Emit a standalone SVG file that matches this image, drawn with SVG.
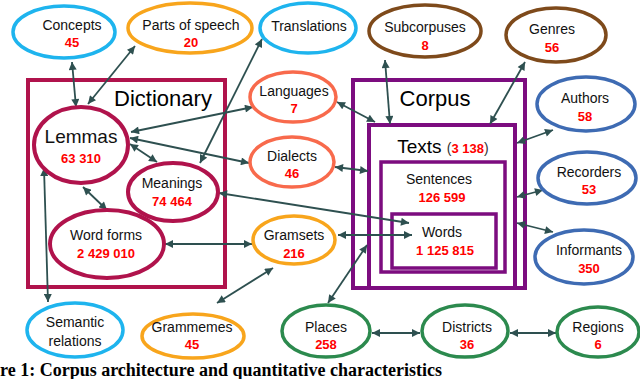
<svg xmlns="http://www.w3.org/2000/svg" width="640" height="379" viewBox="0 0 640 379">
<style>
.bg{fill:#fff}
.e{fill:#fff;stroke-width:3.5}
.lb{stroke:#1EB4EE}.or{stroke:#F8A51C}.co{stroke:#F86A4C}.br{stroke:#7E4A1B}.db{stroke:#3E6BB3}.gr{stroke:#2C8A4E}.cr{stroke:#B0134C}
.box{fill:none;stroke-width:4}
.dict{stroke:#B0134C}.corp{stroke:#7C0D7F}
.t{font-family:"Liberation Sans",Arial,sans-serif;font-size:14px;fill:#111;text-anchor:middle}
.n{font-family:"Liberation Sans",Arial,sans-serif;font-size:13px;font-weight:bold;fill:#FF0000;text-anchor:middle}
.big{font-family:"Liberation Sans",Arial,sans-serif;font-size:22px;fill:#000;text-anchor:middle}
.c line{stroke:#2E5050;stroke-width:1.8;marker-start:url(#ah);marker-end:url(#ah)}
.cap{font-family:"Liberation Serif","Times New Roman",serif;font-size:18px;font-weight:bold;fill:#000}
</style>
<defs>
<marker id="ah" viewBox="0 0 10 10" refX="10" refY="5" markerUnits="userSpaceOnUse" markerWidth="9" markerHeight="8" orient="auto-start-reverse">
<path d="M0,0 L10,5 L0,10 z" fill="#2E5050"/>
</marker>
</defs>
<rect class="bg" x="0" y="0" width="640" height="379"/>

<g id="dictionary">
<rect class="box dict" x="28" y="80" width="197" height="207"/>
<text class="big" x="163" y="106">Dictionary</text>
</g>
<g id="corpus">
<rect class="box corp" x="353" y="80" width="172" height="208"/>
<text class="big" x="435" y="106">Corpus</text>
</g>
<g id="texts">
<rect class="box corp" x="369" y="125" width="146" height="163"/>
<text x="443" y="153" style="font-family:'Liberation Sans',Arial,sans-serif;text-anchor:middle"><tspan font-size="19" fill="#000">Texts </tspan><tspan font-size="14" fill="#333">(</tspan><tspan font-size="13" font-weight="bold" fill="#FF0000">3 138</tspan><tspan font-size="14" fill="#333">)</tspan></text>
</g>
<g id="sentences">
<rect class="box corp" x="381" y="162" width="124" height="110" style="stroke-width:3.5"/>
<text class="t" x="439" y="184">Sentences</text>
<text class="n" x="442" y="202">126 599</text>
</g>
<g id="words">
<rect class="box corp" x="392" y="214" width="104" height="54" style="stroke-width:3.5"/>
<text class="t" x="442" y="237">Words</text>
<text class="n" x="445" y="255">1 125 815</text>
</g>

<g class="c" id="connectors">
<line x1="72" y1="62" x2="76" y2="107"/>
<line x1="135" y1="46" x2="88" y2="104"/>
<line x1="262" y1="39" x2="200" y2="163"/>
<line x1="131" y1="132" x2="253" y2="107"/>
<line x1="130" y1="138" x2="249" y2="163"/>
<line x1="130" y1="144" x2="157" y2="162"/>
<line x1="83" y1="187" x2="107" y2="210"/>
<line x1="44" y1="168" x2="48" y2="302"/>
<line x1="165" y1="244" x2="252" y2="244"/>
<line x1="273" y1="268" x2="217" y2="303"/>
<line x1="219" y1="193" x2="409" y2="223"/>
<line x1="338" y1="235" x2="412" y2="235"/>
<line x1="328" y1="303" x2="367" y2="245"/>
<line x1="372" y1="333" x2="420" y2="333"/>
<line x1="510" y1="333" x2="556" y2="333"/>
<line x1="337" y1="102" x2="375" y2="122"/>
<line x1="335" y1="167" x2="368" y2="171"/>
<line x1="385" y1="60" x2="390" y2="124"/>
<line x1="525" y1="62" x2="490" y2="124"/>
<line x1="553" y1="130" x2="517" y2="143"/>
<line x1="543" y1="190" x2="517" y2="197"/>
<line x1="517" y1="223" x2="553" y2="232"/>
</g>

<g id="concepts"><ellipse class="e lb" cx="64" cy="32" rx="51" ry="26"/><text class="t" x="72" y="30">Concepts</text><text class="n" x="72" y="47">45</text></g>
<g id="parts-of-speech"><ellipse class="e or" cx="190" cy="28" rx="62" ry="25"/><text class="t" x="191" y="30">Parts of speech</text><text class="n" x="191" y="47">20</text></g>
<g id="translations"><ellipse class="e lb" cx="308" cy="28" rx="48" ry="25"/><text class="t" x="309" y="31">Translations</text></g>
<g id="subcorpuses"><ellipse class="e br" cx="425" cy="31" rx="56" ry="26"/><text class="t" x="425" y="32">Subcorpuses</text><text class="n" x="425" y="50">8</text></g>
<g id="genres"><ellipse class="e br" cx="556" cy="35" rx="50" ry="27"/><text class="t" x="552" y="34">Genres</text><text class="n" x="552" y="52">56</text></g>
<g id="authors"><ellipse class="e db" cx="586" cy="104" rx="49" ry="27"/><text class="t" x="585" y="103">Authors</text><text class="n" x="585" y="121">58</text></g>
<g id="recorders"><ellipse class="e db" cx="587" cy="178" rx="49" ry="26"/><text class="t" x="589" y="177">Recorders</text><text class="n" x="589" y="194">53</text></g>
<g id="informants"><ellipse class="e db" cx="584" cy="257" rx="49" ry="27"/><text class="t" x="589" y="255">Informants</text><text class="n" x="589" y="273">350</text></g>
<g id="languages"><ellipse class="e co" cx="293" cy="97" rx="43" ry="25"/><text class="t" x="294" y="96">Languages</text><text class="n" x="294" y="113">7</text></g>
<g id="dialects"><ellipse class="e co" cx="292" cy="162" rx="42" ry="25"/><text class="t" x="292" y="161">Dialects</text><text class="n" x="292" y="178">46</text></g>
<g id="lemmas"><ellipse class="e cr" cx="81" cy="145" rx="47" ry="38" style="stroke-width:4"/><text class="t" x="81" y="143" style="font-size:19px">Lemmas</text><text class="n" x="81" y="163">63 310</text></g>
<g id="meanings"><ellipse class="e cr" cx="173" cy="192" rx="45" ry="29" style="stroke-width:4"/><text class="t" x="172" y="188">Meanings</text><text class="n" x="172" y="206">74 464</text></g>
<g id="word-forms"><ellipse class="e cr" cx="107" cy="244" rx="57" ry="34" style="stroke-width:4"/><text class="t" x="106" y="240">Word forms</text><text class="n" x="106" y="258">2 429 010</text></g>
<g id="gramsets"><ellipse class="e or" cx="294" cy="240" rx="41" ry="24"/><text class="t" x="294" y="240">Gramsets</text><text class="n" x="294" y="258">216</text></g>
<g id="semantic-relations"><ellipse class="e lb" cx="75" cy="330" rx="48" ry="27"/><text class="t" x="75" y="327">Semantic</text><text class="t" x="75" y="346">relations</text></g>
<g id="grammemes"><ellipse class="e or" cx="193" cy="336" rx="51" ry="22"/><text class="t" x="192" y="332">Grammemes</text><text class="n" x="192" y="349">45</text></g>
<g id="places"><ellipse class="e gr" cx="326" cy="331" rx="44" ry="26"/><text class="t" x="326" y="332">Places</text><text class="n" x="326" y="349">258</text></g>
<g id="districts"><ellipse class="e gr" cx="465" cy="331" rx="43" ry="26"/><text class="t" x="467" y="332">Districts</text><text class="n" x="467" y="349">36</text></g>
<g id="regions"><ellipse class="e gr" cx="598" cy="332" rx="41" ry="25"/><text class="t" x="598" y="332">Regions</text><text class="n" x="598" y="349">6</text></g>

<text class="cap" x="0" y="376">re 1: Corpus architecture and quantitative characteristics</text>
</svg>
